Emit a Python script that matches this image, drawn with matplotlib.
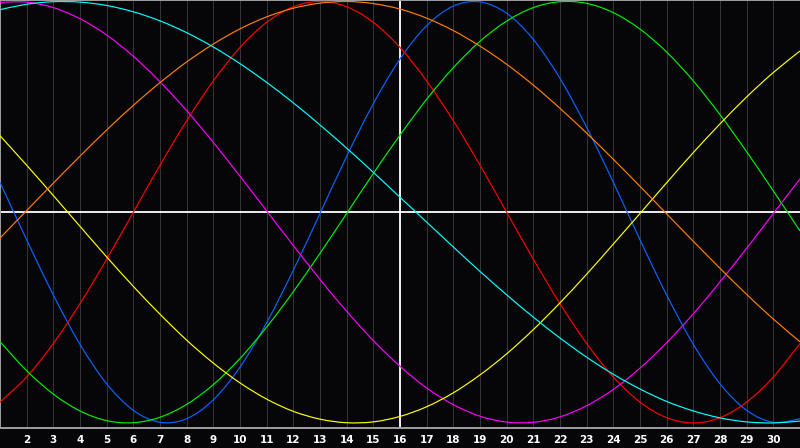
import matplotlib
matplotlib.use("Agg")
import matplotlib.pyplot as plt
from matplotlib.path import Path
from matplotlib.patches import PathPatch

# Days of the month shown on the chart
days = list(range(1, 32))
today = 16
tick_days = list(range(2, 31))

# Cycle values, one per day (-1 .. 1)
physical = [0.142, -0.131, -0.393, -0.627, -0.814, -0.940, -0.997, -0.980, -0.890, -0.735,
            -0.524, -0.275, -0.006, 0.265, 0.515, 0.727, 0.885, 0.978, 0.998, 0.944,
            0.820, 0.635, 0.403, 0.142, -0.131, -0.393, -0.627, -0.814, -0.940, -0.997, -0.980]
emotional = [-0.901, -0.782, -0.623, -0.434, -0.223, 0.000, 0.223, 0.434, 0.623, 0.782,
             0.901, 0.975, 1.000, 0.975, 0.901, 0.782, 0.623, 0.434, 0.223, 0.000,
             -0.223, -0.434, -0.623, -0.782, -0.901, -0.975, -1.000, -0.975, -0.901, -0.782, -0.623]
intellectual = [-0.614, -0.752, -0.863, -0.943, -0.989, -0.999, -0.973, -0.912, -0.818, -0.694,
                -0.545, -0.377, -0.195, -0.006, 0.184, 0.366, 0.536, 0.686, 0.811, 0.907,
                0.971, 0.999, 0.991, 0.947, 0.869, 0.760, 0.623, 0.463, 0.287, 0.101, -0.089]
intuitive = [0.996, 0.997, 0.971, 0.918, 0.841, 0.740, 0.619, 0.482, 0.331, 0.171,
             0.006, -0.158, -0.319, -0.470, -0.609, -0.731, -0.834, -0.913, -0.968, -0.996,
             -0.997, -0.971, -0.918, -0.841, -0.740, -0.619, -0.482, -0.331, -0.171, -0.006, 0.158]
aesthetic = [0.363, 0.223, 0.079, -0.067, -0.212, -0.352, -0.484, -0.607, -0.716, -0.810,
             -0.887, -0.945, -0.982, -0.999, -0.995, -0.969, -0.923, -0.857, -0.772, -0.672,
             -0.557, -0.430, -0.294, -0.151, -0.006, 0.140, 0.283, 0.419, 0.547, 0.663, 0.765]
awareness = [-0.123, 0.008, 0.138, 0.266, 0.390, 0.507, 0.615, 0.713, 0.798, 0.870,
             0.927, 0.968, 0.992, 1.000, 0.990, 0.964, 0.921, 0.862, 0.788, 0.702,
             0.603, 0.493, 0.375, 0.251, 0.123, -0.008, -0.138, -0.266, -0.390, -0.507, -0.615]
spiritual = [0.961, 0.987, 0.999, 0.997, 0.981, 0.951, 0.908, 0.852, 0.784, 0.705,
             0.616, 0.519, 0.414, 0.304, 0.189, 0.071, -0.047, -0.165, -0.281, -0.392,
             -0.498, -0.597, -0.688, -0.769, -0.839, -0.898, -0.943, -0.976, -0.995, -1.000, -0.991]

series = [
    (physical, "#0a64ff"),
    (emotional, "#ff0000"),
    (intellectual, "#00f000"),
    (intuitive, "#ff00ff"),
    (aesthetic, "#ffff00"),
    (awareness, "#ff8000"),
    (spiritual, "#00ffff"),
]


# smooth curve through the daily points (Catmull-Rom as cubic Bezier path)
def smooth_path(xs, ys):
    pts = list(zip(xs, ys))
    verts = [pts[0]]
    codes = [Path.MOVETO]
    n = len(pts)
    for i in range(n - 1):
        p0 = pts[i - 1] if i > 0 else pts[i]
        p1 = pts[i]
        p2 = pts[i + 1]
        p3 = pts[i + 2] if i + 2 < n else pts[i + 1]
        c1 = (p1[0] + (p2[0] - p0[0]) / 6, p1[1] + (p2[1] - p0[1]) / 6)
        c2 = (p2[0] - (p3[0] - p1[0]) / 6, p2[1] - (p3[1] - p1[1]) / 6)
        verts += [c1, c2, p2]
        codes += [Path.CURVE4] * 3
    return Path(verts, codes)


bg = "#060608"
fig = plt.figure(figsize=(8, 4.48), dpi=100, facecolor=bg)
ax = fig.add_axes([0, 20 / 448, 1, 428 / 448], facecolor=bg)

# day grid
for d in tick_days:
    ax.axvline(d, color="#353535", lw=0.75, zorder=1)

# today marker and zero line
ax.axvline(today, color="white", lw=1.3, zorder=2)
ax.axhline(0, color="white", lw=1.3, zorder=2)

for values, color in series:
    ax.add_patch(PathPatch(smooth_path(days, values), fill=False,
                           edgecolor=color, lw=0.85, zorder=3))

ax.set_xlim(1, 31)
ax.set_ylim(-1.024, 1.007)

ax.set_xticks(tick_days)
ax.set_xticklabels([str(d) for d in tick_days])
ax.set_yticks([])
ax.tick_params(axis="x", length=0, pad=5, colors="white", labelsize=7.5)
for lbl in ax.get_xticklabels():
    lbl.set_fontweight("bold")

for side in ["left", "top", "bottom"]:
    ax.spines[side].set_color("#a0a0a0")
    ax.spines[side].set_linewidth(1.4)
ax.spines["right"].set_visible(False)

fig.savefig("out.png", dpi=100, facecolor=bg)
